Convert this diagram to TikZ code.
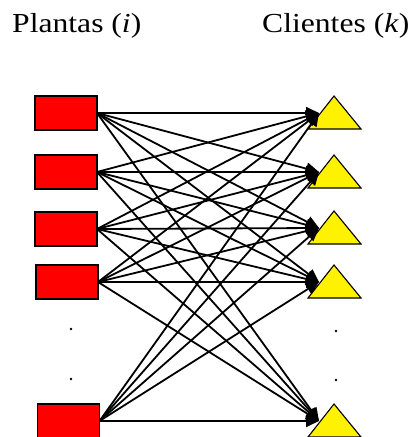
\documentclass[tikz,border=0pt]{standalone}
\usepackage{fontspec}
\usepackage{graphicx}
\setmainfont{Liberation Serif}
\usetikzlibrary{arrows.meta}
\begin{document}
\begin{tikzpicture}[x=1pt,y=-1pt,
  plant/.style={draw=black, line width=1.1pt, fill=red, minimum width=62pt,
    minimum height=34pt, inner sep=0pt, outer sep=0pt},
  client/.style={draw=black, line width=1.1pt, fill=yellow, line join=miter},
  flow/.style={line width=1.8pt, -{Triangle[length=13pt,width=12pt]}},
  title/.style={font=\fontsize{27.5}{30}\selectfont, anchor=base west, inner sep=0pt},
  dotmark/.style={fill=black, circle, inner sep=0pt, minimum size=2.8pt}
]
\useasboundingbox (0,0) rectangle (414,437);

% column headings
\node[title] (hp) at (12,32) {\scalebox{1.15}[1]{Plantas (\textit{i})}};
\node[title] (hc) at (262,32) {\scalebox{1.15}[1]{Clientes (\textit{k})}};

% plants
\foreach \n/\x/\y in {1/66/113, 2/66/172, 3/66/229, 4/67/282, 5/68.5/421}
  \node[plant] (p\n) at (\x,\y) {};

% clients
\foreach \n/\t in {1/96, 2/155, 3/211, 4/265, 5/404} {
  \draw[client] (308,\t+33) -- (334,\t) -- (361,\t+33) -- cycle;
  \coordinate (c\n) at (319,\t+17);
}

% every plant ships to every client
\foreach \i in {1,...,5}
  \foreach \k in {1,...,5}
    \draw[flow] (p\i.east) -- (c\k);

% ellipsis dots
\node[dotmark] (dl1) at (71,329) {};
\node[dotmark] (dl2) at (71,379) {};
\node[dotmark] (dr1) at (336,331) {};
\node[dotmark] (dr2) at (336,380) {};
\end{tikzpicture}
\end{document}
